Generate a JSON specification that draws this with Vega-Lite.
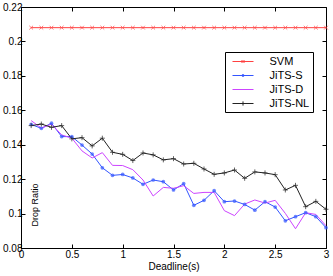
{
  "$schema": "https://vega.github.io/schema/vega-lite/v6.json",
  "autosize": "none",
  "width": 305,
  "height": 241,
  "padding": {"left": 21, "top": 7, "right": 7, "bottom": 28},
  "background": "white",
  "config": {
    "view": {"stroke": "black", "strokeWidth": 1},
    "axis": {"domainColor": "black", "tickColor": "black", "labelColor": "black", "titleColor": "black", "grid": false, "labelFont": "Liberation Sans", "titleFont": "Liberation Sans", "labelFontSize": 10, "titleFontSize": 10, "titleFontWeight": "normal", "domainWidth": 1, "tickWidth": 1}
  },
  "data": {"values": [
    {"d":0.1,"s":"SVM","r":0.208},{"d":0.2,"s":"SVM","r":0.208},{"d":0.3,"s":"SVM","r":0.208},{"d":0.4,"s":"SVM","r":0.208},{"d":0.5,"s":"SVM","r":0.208},{"d":0.6,"s":"SVM","r":0.208},{"d":0.7,"s":"SVM","r":0.208},{"d":0.8,"s":"SVM","r":0.208},{"d":0.9,"s":"SVM","r":0.208},{"d":1.0,"s":"SVM","r":0.208},
    {"d":1.1,"s":"SVM","r":0.208},{"d":1.2,"s":"SVM","r":0.208},{"d":1.3,"s":"SVM","r":0.208},{"d":1.4,"s":"SVM","r":0.208},{"d":1.5,"s":"SVM","r":0.208},{"d":1.6,"s":"SVM","r":0.208},{"d":1.7,"s":"SVM","r":0.208},{"d":1.8,"s":"SVM","r":0.208},{"d":1.9,"s":"SVM","r":0.208},{"d":2.0,"s":"SVM","r":0.208},
    {"d":2.1,"s":"SVM","r":0.208},{"d":2.2,"s":"SVM","r":0.208},{"d":2.3,"s":"SVM","r":0.208},{"d":2.4,"s":"SVM","r":0.208},{"d":2.5,"s":"SVM","r":0.208},{"d":2.6,"s":"SVM","r":0.208},{"d":2.7,"s":"SVM","r":0.208},{"d":2.8,"s":"SVM","r":0.208},{"d":2.9,"s":"SVM","r":0.208},{"d":3.0,"s":"SVM","r":0.208},
    {"d":0.1,"s":"JiTS-S","r":0.1518},{"d":0.2,"s":"JiTS-S","r":0.1495},{"d":0.3,"s":"JiTS-S","r":0.1525},{"d":0.4,"s":"JiTS-S","r":0.1447},{"d":0.5,"s":"JiTS-S","r":0.1447},{"d":0.6,"s":"JiTS-S","r":0.1398},{"d":0.7,"s":"JiTS-S","r":0.1346},{"d":0.8,"s":"JiTS-S","r":0.1266},{"d":0.9,"s":"JiTS-S","r":0.1222},{"d":1.0,"s":"JiTS-S","r":0.1227},
    {"d":1.1,"s":"JiTS-S","r":0.1207},{"d":1.2,"s":"JiTS-S","r":0.117},{"d":1.3,"s":"JiTS-S","r":0.1195},{"d":1.4,"s":"JiTS-S","r":0.1185},{"d":1.5,"s":"JiTS-S","r":0.1137},{"d":1.6,"s":"JiTS-S","r":0.1174},{"d":1.7,"s":"JiTS-S","r":0.1048},{"d":1.8,"s":"JiTS-S","r":0.1077},{"d":1.9,"s":"JiTS-S","r":0.1133},{"d":2.0,"s":"JiTS-S","r":0.1069},
    {"d":2.1,"s":"JiTS-S","r":0.1073},{"d":2.2,"s":"JiTS-S","r":0.1053},{"d":2.3,"s":"JiTS-S","r":0.102},{"d":2.4,"s":"JiTS-S","r":0.1069},{"d":2.5,"s":"JiTS-S","r":0.1038},{"d":2.6,"s":"JiTS-S","r":0.0958},{"d":2.7,"s":"JiTS-S","r":0.0982},{"d":2.8,"s":"JiTS-S","r":0.1005},{"d":2.9,"s":"JiTS-S","r":0.0982},{"d":3.0,"s":"JiTS-S","r":0.0918},
    {"d":0.1,"s":"JiTS-D","r":0.154},{"d":0.2,"s":"JiTS-D","r":0.1497},{"d":0.3,"s":"JiTS-D","r":0.152},{"d":0.4,"s":"JiTS-D","r":0.1457},{"d":0.5,"s":"JiTS-D","r":0.1438},{"d":0.6,"s":"JiTS-D","r":0.1364},{"d":0.7,"s":"JiTS-D","r":0.1323},{"d":0.8,"s":"JiTS-D","r":0.1354},{"d":0.9,"s":"JiTS-D","r":0.128},{"d":1.0,"s":"JiTS-D","r":0.1279},
    {"d":1.1,"s":"JiTS-D","r":0.1255},{"d":1.2,"s":"JiTS-D","r":0.1195},{"d":1.3,"s":"JiTS-D","r":0.1102},{"d":1.4,"s":"JiTS-D","r":0.1152},{"d":1.5,"s":"JiTS-D","r":0.1147},{"d":1.6,"s":"JiTS-D","r":0.1162},{"d":1.7,"s":"JiTS-D","r":0.1117},{"d":1.8,"s":"JiTS-D","r":0.1123},{"d":1.9,"s":"JiTS-D","r":0.1123},{"d":2.0,"s":"JiTS-D","r":0.1017},
    {"d":2.1,"s":"JiTS-D","r":0.0988},{"d":2.2,"s":"JiTS-D","r":0.1055},{"d":2.3,"s":"JiTS-D","r":0.1079},{"d":2.4,"s":"JiTS-D","r":0.1061},{"d":2.5,"s":"JiTS-D","r":0.1077},{"d":2.6,"s":"JiTS-D","r":0.1001},{"d":2.7,"s":"JiTS-D","r":0.0912},{"d":2.8,"s":"JiTS-D","r":0.1005},{"d":2.9,"s":"JiTS-D","r":0.0995},{"d":3.0,"s":"JiTS-D","r":0.0929},
    {"d":0.1,"s":"JiTS-NL","r":0.1511},{"d":0.2,"s":"JiTS-NL","r":0.152},{"d":0.3,"s":"JiTS-NL","r":0.1501},{"d":0.4,"s":"JiTS-NL","r":0.1511},{"d":0.5,"s":"JiTS-NL","r":0.1434},{"d":0.6,"s":"JiTS-NL","r":0.1441},{"d":0.7,"s":"JiTS-NL","r":0.1393},{"d":0.8,"s":"JiTS-NL","r":0.1438},{"d":0.9,"s":"JiTS-NL","r":0.1356},{"d":1.0,"s":"JiTS-NL","r":0.1344},
    {"d":1.1,"s":"JiTS-NL","r":0.1308},{"d":1.2,"s":"JiTS-NL","r":0.1352},{"d":1.3,"s":"JiTS-NL","r":0.1341},{"d":1.4,"s":"JiTS-NL","r":0.1312},{"d":1.5,"s":"JiTS-NL","r":0.1319},{"d":1.6,"s":"JiTS-NL","r":0.1288},{"d":1.7,"s":"JiTS-NL","r":0.1292},{"d":1.8,"s":"JiTS-NL","r":0.1259},{"d":1.9,"s":"JiTS-NL","r":0.1228},{"d":2.0,"s":"JiTS-NL","r":0.1236},
    {"d":2.1,"s":"JiTS-NL","r":0.1253},{"d":2.2,"s":"JiTS-NL","r":0.1205},{"d":2.3,"s":"JiTS-NL","r":0.1242},{"d":2.4,"s":"JiTS-NL","r":0.1236},{"d":2.5,"s":"JiTS-NL","r":0.1226},{"d":2.6,"s":"JiTS-NL","r":0.1137},{"d":2.7,"s":"JiTS-NL","r":0.1164},{"d":2.8,"s":"JiTS-NL","r":0.104},{"d":2.9,"s":"JiTS-NL","r":0.1071},{"d":3.0,"s":"JiTS-NL","r":0.1025}
  ]},
  "resolve": {"axis": {"x": "independent", "y": "independent"}},
  "layer": [
    {
      "mark": {"type": "line", "strokeWidth": 1, "clip": true},
      "encoding": {
        "x": {"field": "d", "type": "quantitative", "scale": {"domain": [0, 3], "nice": false, "zero": false},
              "axis": {"title": "Deadline(s)", "values": [0, 0.5, 1, 1.5, 2, 2.5, 3], "format": "~g", "tickSize": -4, "labelPadding": 5, "titlePadding": 2, "labelFlush": false}},
        "y": {"field": "r", "type": "quantitative", "scale": {"domain": [0.08, 0.22], "nice": false, "zero": false},
              "axis": {"title": "Drop Ratio", "values": [0.08, 0.1, 0.12, 0.14, 0.16, 0.18, 0.2, 0.22], "format": ".2~f", "tickSize": -4, "labelPadding": 3,
                       "titleAngle": -90, "titleX": 16, "titleY": 219, "titleAlign": "left", "titleBaseline": "alphabetic", "titleFontSize": 9}},
        "color": {"field": "s", "type": "nominal",
                  "scale": {"domain": ["SVM", "JiTS-S", "JiTS-D", "JiTS-NL"], "range": ["#ff4040", "#3355ff", "#cc44ff", "#222222"]},
                  "legend": {"orient": "none", "legendX": 204, "legendY": 45, "title": null, "symbolType": "stroke", "symbolSize": 144, "symbolStrokeWidth": 1, "symbolOffset": 8.5,
                             "labelFontSize": 11, "labelFont": "Liberation Sans", "labelColor": "black", "strokeColor": "black", "fillColor": "white", "padding": 3, "labelOffset": 20, "rowPadding": 2,
                             "labelExpr": "datum.label + '\u00a0\u00a0\u00a0\u00a0'",
                             "encode": {"symbols": {"update": {"shape": {"signal": "datum.value === 'SVM' ? 'M-1.75,0L1.75,0M-0.25,-0.25L0.25,0.25M-0.25,0.25L0.25,-0.25' : datum.value === 'JiTS-S' ? 'M-1.75,0L1.75,0M-0.18,0A0.18,0.18 0 1,0 0.18,0A0.18,0.18 0 1,0 -0.18,0' : datum.value === 'JiTS-NL' ? 'M-1.75,0L1.75,0M0,-0.35L0,0.35' : 'M-1.75,0L1.75,0'"}}}}}}
      }
    },
    {
      "transform": [{"filter": "datum.s === 'SVM'"}],
      "mark": {"type": "point", "shape": "M-1,-1L1,1M-1,1L1,-1", "filled": false, "color": "#ff4040", "size": 14, "strokeWidth": 1},
      "encoding": {
        "x": {"field": "d", "type": "quantitative", "axis": {"orient": "top", "values": [0, 0.5, 1, 1.5, 2, 2.5, 3], "labels": false, "tickSize": -4, "title": null, "domain": false}},
        "y": {"field": "r", "type": "quantitative", "axis": {"orient": "right", "values": [0.08, 0.1, 0.12, 0.14, 0.16, 0.18, 0.2, 0.22], "labels": false, "tickSize": -4, "title": null, "domain": false}}
      }
    },
    {
      "transform": [{"filter": "datum.s === 'JiTS-S'"}],
      "mark": {"type": "point", "shape": "circle", "filled": true, "color": "#3355ff", "size": 14},
      "encoding": {
        "x": {"field": "d", "type": "quantitative", "axis": null},
        "y": {"field": "r", "type": "quantitative", "axis": null}
      }
    },
    {
      "transform": [{"filter": "datum.s === 'JiTS-NL'"}],
      "mark": {"type": "point", "shape": "M-1,0L1,0M0,-1L0,1", "filled": false, "color": "#222222", "size": 25, "strokeWidth": 1},
      "encoding": {
        "x": {"field": "d", "type": "quantitative", "axis": null},
        "y": {"field": "r", "type": "quantitative", "axis": null}
      }
    }
  ]
}
